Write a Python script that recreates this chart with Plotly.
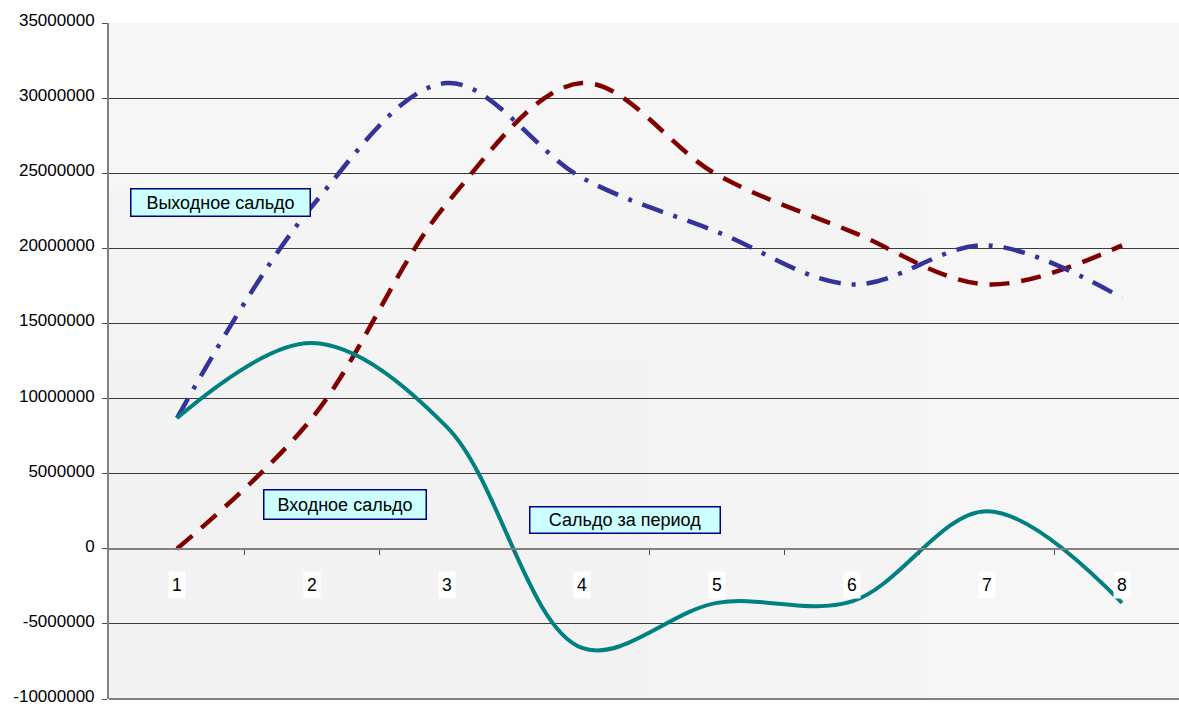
import plotly.graph_objects as go

# ---- data ----
categories = ["1", "2", "3", "4", "5", "6", "7", "8"]
x_pos = [1, 2, 3, 4, 5, 6, 7, 8]
vhodnoe = [0, 8.7e6, 23.0e6, 31.0e6, 24.9e6, 21.1e6, 17.6e6, 20.2e6]
vyhodnoe = [8.7e6, 22.8e6, 31.0e6, 24.7e6, 21.1e6, 17.6e6, 20.2e6, 16.7e6]
saldo = [8.7e6, 13.7e6, 8.1e6, -6.6e6, -3.6e6, -3.5e6, 2.5e6, -3.6e6]

y_tick_vals = [-10000000, -5000000, 0, 5000000, 10000000, 15000000, 20000000, 25000000, 30000000, 35000000]
y_tick_text = ["-10000000", "-5000000", "0", "5000000", "10000000", "15000000", "20000000", "25000000", "30000000", "35000000"]

label_texts = ["Выходное сальдо", "Входное сальдо", "Сальдо за период"]

FONT = "Liberation Sans, Arial, sans-serif"

fig = go.Figure()

fig.add_trace(go.Scatter(
    x=x_pos, y=vhodnoe, mode="lines", name="Входное сальдо",
    line=dict(color="#800000", width=4.5, dash="20px,12px", shape="spline", smoothing=1),
))
fig.add_trace(go.Scatter(
    x=x_pos, y=vyhodnoe, mode="lines", name="Выходное сальдо",
    line=dict(color="#333399", width=4.5, dash="22px,11px,4px,11px", shape="spline", smoothing=1),
))
fig.add_trace(go.Scatter(
    x=x_pos, y=saldo, mode="lines", name="Сальдо за период",
    line=dict(color="#008080", width=4, shape="spline", smoothing=1),
))

# background banding (approximate Excel gradient)
shapes = [
    dict(type="rect", xref="paper", yref="paper", x0=0, x1=1.01, y0=0, y1=1,
         fillcolor="#f6f6f6", line_width=0, layer="below"),
    dict(type="rect", xref="x", yref="y", x0=0.4, x1=6.51, y0=-10e6, y1=23.8e6,
         fillcolor="#f4f4f4", line_width=0, layer="below"),
    dict(type="rect", xref="x", yref="y", x0=0.4, x1=4.5, y0=-10e6, y1=12.5e6,
         fillcolor="#f2f2f2", line_width=0, layer="below"),
    # bottom border of plot area
    dict(type="line", xref="paper", yref="paper", x0=0, x1=1, y0=0, y1=0,
         line=dict(color="#808080", width=2)),
]

annotations = []
# category labels along the zero line
for xv, t in zip(x_pos, categories):
    annotations.append(dict(
        x=xv, y=0, xref="x", yref="y", text=t, showarrow=False,
        yshift=-36, font=dict(family=FONT, size=17.5, color="#000000"),
        bgcolor="#ffffff", borderpad=3,
    ))

# series label boxes
box_specs = [
    (1.3185, 23.03e6, 176, 24),
    (2.248, 2.93e6, 159, 26),
    (4.322, 1.90e6, 187, 23),
]
for (bx, by, bw, bh), t in zip(box_specs, label_texts):
    annotations.append(dict(
        x=bx, y=by, xref="x", yref="y", text=t, showarrow=False,
        width=bw, height=bh, align="center", valign="middle",
        font=dict(family=FONT, size=18, color="#000000"),
        bgcolor="#ccffff", bordercolor="#000080", borderwidth=1.5, borderpad=1,
    ))

fig.update_layout(
    width=1179, height=704,
    margin=dict(l=109, r=0, t=23, b=5, autoexpand=False),
    paper_bgcolor="#ffffff",
    plot_bgcolor="rgba(0,0,0,0)",
    showlegend=False,
    shapes=shapes,
    annotations=annotations,
    xaxis=dict(
        range=[0.4963, 8.4222],
        anchor="free", position=10 / 45,
        showgrid=False, zeroline=False,
        showline=True, linecolor="#808080", linewidth=2,
        tickmode="array", tickvals=[1.5, 2.5, 3.5, 4.5, 5.5, 6.5, 7.5],
        ticks="outside", ticklen=5, tickcolor="#505050", tickwidth=1,
        showticklabels=False,
        fixedrange=True, automargin=False,
    ),
    yaxis=dict(
        range=[-10e6, 35e6],
        tickmode="array", tickvals=y_tick_vals, ticktext=y_tick_text,
        showgrid=True, gridcolor="#3a3a3a", gridwidth=1,
        zeroline=False,
        showline=True, linecolor="#808080", linewidth=2,
        ticks="outside", ticklen=5, tickcolor="#505050",
        tickfont=dict(family=FONT, size=17, color="#000000"),
        ticklabelstandoff=4, ticklabeloverflow="allow", ticklabelshift=-3,
        fixedrange=True, automargin=False,
    ),
)

fig.write_html("out.html", config={"displayModeBar": False})

# remove default page margin so the figure sits at the window origin
with open("out.html", "r", encoding="utf-8") as f:
    html = f.read()
html = html.replace("<head>", "<head><style>html,body{margin:0;padding:0;overflow:hidden;}</style>", 1)
with open("out.html", "w", encoding="utf-8") as f:
    f.write(html)
